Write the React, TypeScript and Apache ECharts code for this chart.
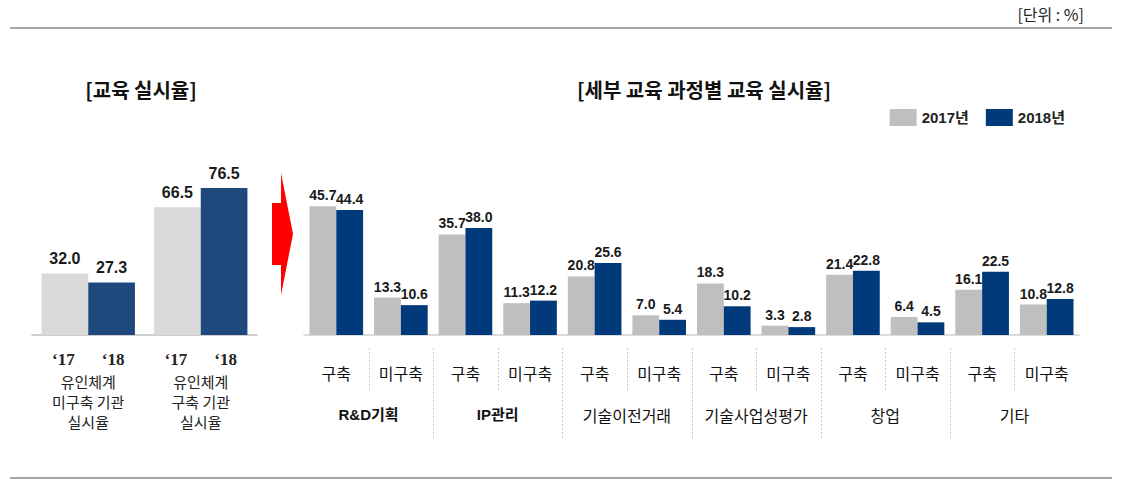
import React, { useEffect, useRef } from 'react';
import * as echarts from 'echarts';

// ---- data ----
const leftCategories = ['유인체계\n미구축 기관\n실시율', '유인체계\n구축 기관\n실시율'];
const leftYearLabels = ['‘17', '‘18'];
const left2017 = [32.0, 66.5];
const left2018 = [27.3, 76.5];

const groups = ['R&D기획', 'IP관리', '기술이전거래', '기술사업성평가', '창업', '기타'];
const subTypes = ['구축', '미구축'];
const right2017 = [45.7, 13.3, 35.7, 11.3, 20.8, 7.0, 18.3, 3.3, 21.4, 6.4, 16.1, 10.8];
const right2018 = [44.4, 10.6, 38.0, 12.2, 25.6, 5.4, 10.2, 2.8, 22.8, 4.5, 22.5, 12.8];
const seriesNames = ['2017년', '2018년'];

const leftTitle = '[교육 실시율]';
const rightTitle = '[세부 교육 과정별 교육 실시율]';
const unitText = '[단위 : %]';

const FONT = "'Liberation Sans', 'Noto Sans CJK KR', sans-serif";
const KFONT = "'Noto Sans CJK KR', sans-serif";
const GRAY_L = '#D9D9D9';
const BLUE_L = '#1F497D';
const GRAY_R = '#BFBFBF';
const BLUE_R = '#003A7A';

export default function App() {
  const ref = useRef<HTMLDivElement>(null);
  useEffect(() => {
    if (!ref.current) return;
    const chart = echarts.init(ref.current, undefined, { renderer: 'svg' });
    const subCats = groups.flatMap((g) => subTypes.map((s) => `${g}|${s}`));
    const labelStyle = {
      show: true,
      position: 'top' as const,
      distance: 4,
      fontFamily: FONT,
      fontWeight: 'bold' as const,
      color: '#1a1a1a',
      formatter: (p: any) => Number(p.value).toFixed(1),
    };
    const option: any = {
      animation: false,
      textStyle: { fontFamily: FONT },
      legend: {
        data: [
          { name: seriesNames[0], itemStyle: { color: GRAY_R } },
          { name: seriesNames[1], itemStyle: { color: BLUE_R } },
        ],
        right: 52,
        top: 104,
        itemWidth: 27,
        itemHeight: 17,
        itemGap: 17,
        icon: 'rect',
        textStyle: { fontSize: 15, fontWeight: 'bold', color: '#222', fontFamily: FONT },
      },
      grid: [
        { left: 32, width: 225, top: 143, height: 192 },
        { left: 304, width: 775, top: 166, height: 169 },
      ],
      xAxis: [
        {
          type: 'category',
          gridIndex: 0,
          data: leftCategories,
          axisLine: { lineStyle: { color: '#BFBFBF', width: 1.5 } },
          axisTick: { show: false },
          axisLabel: {
            margin: 12,
            interval: 0,
            formatter: (v: string) =>
              `{y|${leftYearLabels[0]}}{g| }{y|${leftYearLabels[1]}}\n` +
              v.split('\n').map((l) => `{t|${l}}`).join('\n'),
            rich: {
              y: {
                fontFamily: "'Liberation Serif', 'DejaVu Serif', serif",
                fontWeight: 'bold',
                fontSize: 17,
                color: '#222',
                lineHeight: 24,
              },
              g: { width: 27, fontSize: 10 },
              t: { fontFamily: KFONT, fontSize: 15, color: '#222', lineHeight: 20 },
            },
          },
        },
        {
          type: 'category',
          gridIndex: 1,
          data: subCats,
          axisLine: { lineStyle: { color: '#D0D0D0', width: 1.5 } },
          axisTick: { show: false },
          axisLabel: {
            margin: 30,
            interval: 0,
            fontFamily: KFONT,
            fontSize: 16,
            color: '#111',
            formatter: (v: string) => v.split('|')[1],
          },
        },
        {
          type: 'category',
          gridIndex: 1,
          position: 'bottom',
          data: groups,
          axisLine: { show: false },
          axisTick: { show: false },
          axisLabel: {
            margin: 72,
            interval: 0,
            formatter: (v: string, i: number) => (i < 2 ? `{b|${v}}` : `{n|${v}}`),
            rich: {
              b: { fontFamily: FONT, fontWeight: 'bold', fontSize: 15, color: '#111' },
              n: { fontFamily: KFONT, fontSize: 16, color: '#111' },
            },
          },
        },
      ],
      yAxis: [
        { type: 'value', gridIndex: 0, min: 0, max: 100, show: false, splitLine: { show: false } },
        { type: 'value', gridIndex: 1, min: 0, max: 60, show: false, splitLine: { show: false } },
      ],
      series: [
        {
          name: seriesNames[0], type: 'bar', xAxisIndex: 0, yAxisIndex: 0,
          data: left2017, barGap: '0%', barCategoryGap: '17%',
          itemStyle: { color: GRAY_L },
          label: { ...labelStyle, fontSize: 16, distance: 7 },
        },
        {
          name: seriesNames[1], type: 'bar', xAxisIndex: 0, yAxisIndex: 0,
          data: left2018, barGap: '0%', barCategoryGap: '17%',
          itemStyle: { color: BLUE_L },
          label: { ...labelStyle, fontSize: 16, distance: 7 },
        },
        {
          name: seriesNames[0], type: 'bar', xAxisIndex: 1, yAxisIndex: 1,
          data: right2017, barGap: '0%', barCategoryGap: '17%',
          itemStyle: { color: GRAY_R },
          label: { ...labelStyle, fontSize: 14 },
        },
        {
          name: seriesNames[1], type: 'bar', xAxisIndex: 1, yAxisIndex: 1,
          data: right2018, barGap: '0%', barCategoryGap: '17%',
          itemStyle: { color: BLUE_R },
          label: { ...labelStyle, fontSize: 14 },
        },
      ],
    };
    chart.setOption(option);

    // decorations
    const graphics: any[] = [
      { type: 'line', shape: { x1: 10, y1: 28, x2: 1112, y2: 28 }, style: { stroke: '#A6A6A6', lineWidth: 2 } },
      { type: 'line', shape: { x1: 10, y1: 478, x2: 1112, y2: 478 }, style: { stroke: '#A6A6A6', lineWidth: 2 } },
      {
        type: 'text', x: 1084, y: 14,
        style: { text: unitText, fontFamily: KFONT, fontSize: 16, fill: '#222', textAlign: 'right', textVerticalAlign: 'middle' },
      },
      {
        type: 'text', x: 141, y: 89,
        style: { text: leftTitle, fontFamily: KFONT, fontWeight: 'bold', fontSize: 20, fill: '#111', textAlign: 'center', textVerticalAlign: 'middle' },
      },
      {
        type: 'text', x: 704, y: 89,
        style: { text: rightTitle, fontFamily: KFONT, fontWeight: 'bold', fontSize: 20, fill: '#111', textAlign: 'center', textVerticalAlign: 'middle' },
      },
      {
        type: 'polygon',
        shape: { points: [[272, 203], [281, 203], [281, 173], [293, 234], [281, 295], [281, 265], [272, 265]] },
        style: { fill: '#FF0000' },
      },
    ];
    for (let i = 0; i < subCats.length - 1; i++) {
      const a = chart.convertToPixel({ xAxisIndex: 1 }, i) as number;
      const b = chart.convertToPixel({ xAxisIndex: 1 }, i + 1) as number;
      const x = Math.round((a + b) / 2) + 0.5;
      const long = i % 2 === 1;
      graphics.push({
        type: 'line',
        shape: { x1: x, y1: 348, x2: x, y2: long ? 440 : 392 },
        style: { stroke: '#C8C8C8', lineWidth: 1, lineDash: [2, 2] },
      });
    }
    chart.setOption({ graphic: graphics });
    return () => chart.dispose();
  }, []);
  return <div ref={ref} style={{ position: 'absolute', left: 0, top: 0, width: 1122, height: 495 }} />;
}
